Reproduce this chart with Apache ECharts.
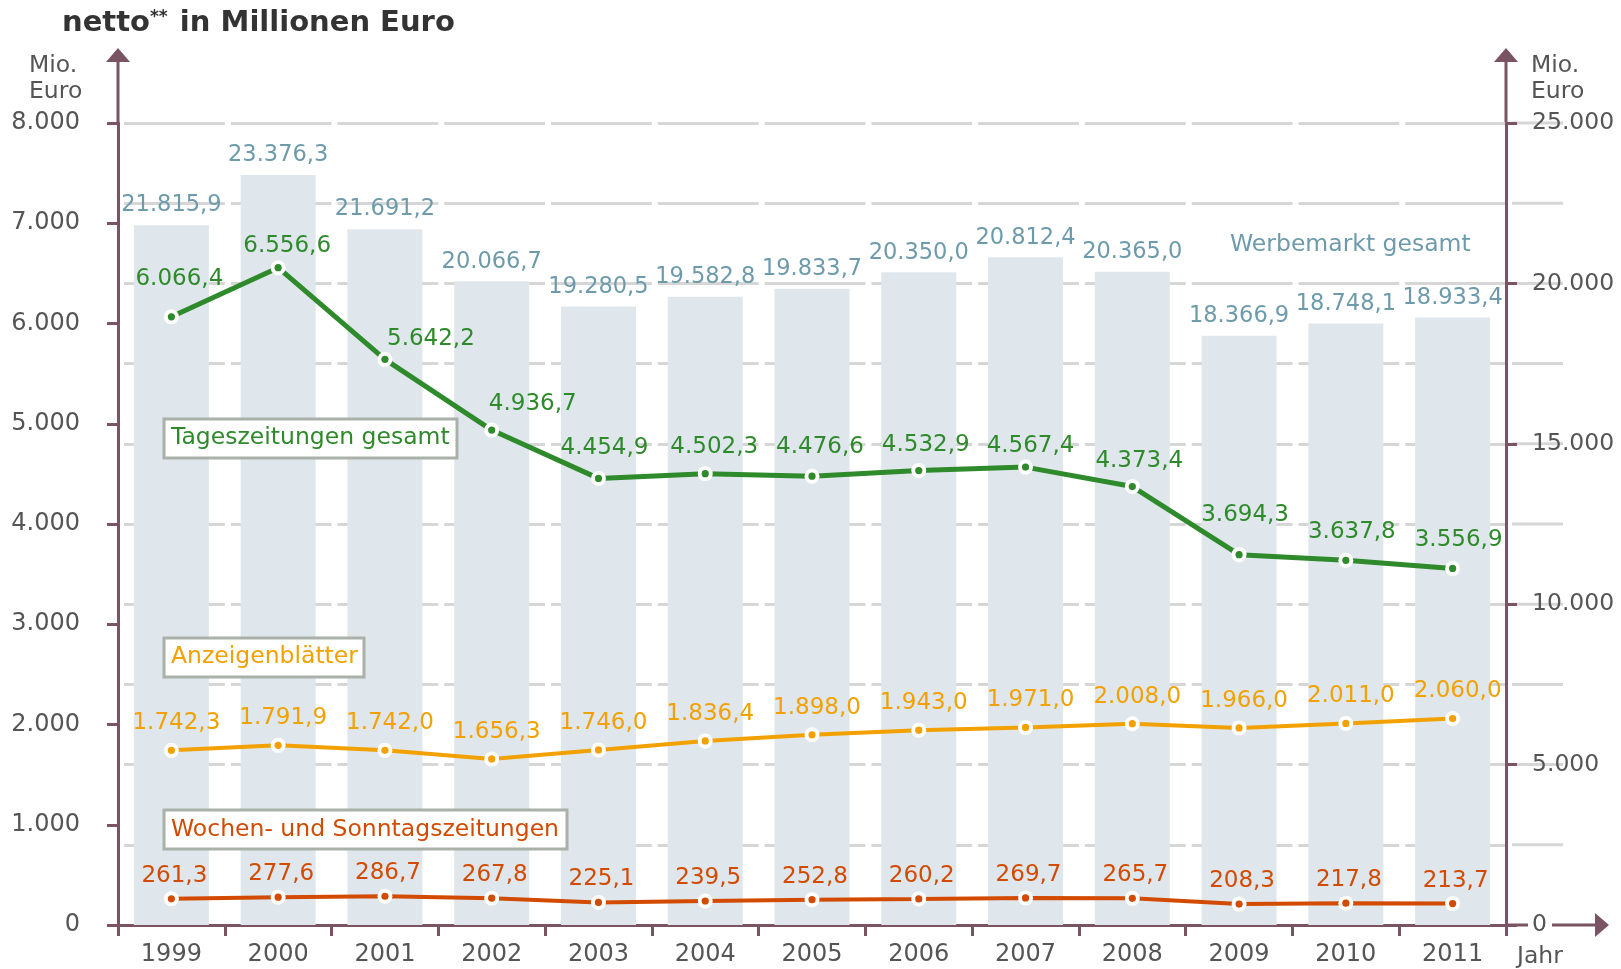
<!DOCTYPE html>
<html>
<head>
<meta charset="utf-8">
<title>Werbemarkt netto</title>
<script src="https://cdn.jsdelivr.net/npm/echarts@6/dist/echarts.min.js"></script>
<style>
  html, body { margin: 0; padding: 0; background: #fff; }
  #main { width: 1621px; height: 969px; }
</style>
</head>
<body>
<div id="main"></div>
<script>
// Daten (Mio. Euro)
var jahre = ['1999', '2000', '2001', '2002', '2003', '2004', '2005', '2006', '2007', '2008', '2009', '2010', '2011'];
var werbemarktGesamt = [21815.9, 23376.3, 21691.2, 20066.7, 19280.5, 19582.8, 19833.7, 20350.0, 20812.4, 20365.0, 18366.9, 18748.1, 18933.4];
var tageszeitungen = [6066.4, 6556.6, 5642.2, 4936.7, 4454.9, 4502.3, 4476.6, 4532.9, 4567.4, 4373.4, 3694.3, 3637.8, 3556.9];
var anzeigenblaetter = [1742.3, 1791.9, 1742.0, 1656.3, 1746.0, 1836.4, 1898.0, 1943.0, 1971.0, 2008.0, 1966.0, 2011.0, 2060.0];
var wochenSonntag = [261.3, 277.6, 286.7, 267.8, 225.1, 239.5, 252.8, 260.2, 269.7, 265.7, 208.3, 217.8, 213.7];

// Achsen
var linksMax = 8000, linksSchritt = 1000;
var rechtsMax = 25000, rechtsSchritt = 5000;

// Verschiebung der Beschriftung an der gruenen Linie
var gruenVersatz = [[8, -38], [9, -22], [46, -20], [41, -26], [6, -30], [9, -27], [8, -29], [7, -26], [5, -21], [7, -26], [6, -40], [6, -28], [6, -28]];

var achsFarbe = '#7a5462';
var textFarbe = '#555';
var gruen = '#2e8a2b', orange = '#f2a100', rot = '#d24b00';
var schrift = 'DejaVu Sans';
var fontText = '23.5px "DejaVu Sans"';

function deZahl(v, dez) {
    var s = Number(v).toFixed(dez);
    var p = s.split('.');
    p[0] = p[0].replace(/\B(?=(\d{3})+(?!\d))/g, '.');
    return p.length > 1 ? p[0] + ',' + p[1] : p[0];
}

// Punkt mit weissem Ring
function punkt(farbe) {
    var svg = '<svg xmlns="http://www.w3.org/2000/svg" width="16" height="16">' +
        '<circle cx="8" cy="8" r="7.5" fill="#ffffff"/>' +
        '<circle cx="8" cy="8" r="3.6" fill="' + farbe + '"/></svg>';
    return 'image://data:image/svg+xml;charset=utf-8,' + encodeURIComponent(svg);
}

var myChart = echarts.init(document.getElementById('main'));

var gruenDaten = tageszeitungen.map(function (v, i) {
    return { value: v, label: { offset: gruenVersatz[i] } };
});

function linie(name, daten, farbe, breite, versatz) {
    return {
        name: name,
        type: 'line',
        xAxisIndex: 0,
        yAxisIndex: 0,
        data: daten,
        symbol: punkt(farbe),
        symbolSize: 16,
        lineStyle: { color: farbe, width: breite },
        itemStyle: { color: farbe },
        label: {
            show: true,
            position: 'inside',
            offset: versatz,
            color: farbe,
            fontFamily: schrift,
            fontSize: 23,
            textBorderWidth: 0,
            formatter: function (p) { return deZahl(p.value, 1); }
        },
        emphasis: { disabled: true },
        z: 3
    };
}

var gitter = { color: '#d6d6d6', width: 3, type: [100.77, 6], dashOffset: 100.77 };

var option = {
    animation: false,
    textStyle: { fontFamily: schrift },
    title: {
        left: 62,
        top: 9,
        padding: 0,
        text: '{a|netto}{s|**}{a| in Millionen Euro}',
        textStyle: {
            rich: {
                a: { fontFamily: schrift, fontWeight: 'bold', fontSize: 29, color: '#333' },
                s: { fontFamily: schrift, fontWeight: 'bold', fontSize: 17, color: '#333', verticalAlign: 'top', padding: [0, 2, 12, 0] }
            }
        }
    },
    grid: { left: 118, right: 115, top: 123, bottom: 44 },
    xAxis: {
        type: 'category',
        data: jahre,
        boundaryGap: true,
        axisLine: { lineStyle: { color: achsFarbe, width: 3 } },
        axisTick: { show: true, length: 11, lineStyle: { color: achsFarbe, width: 3 } },
        axisLabel: { color: textFarbe, fontSize: 24, margin: 18, fontFamily: schrift },
        splitLine: { show: false }
    },
    yAxis: [{
        type: 'value',
        position: 'left',
        min: 0,
        max: linksMax,
        interval: linksSchritt,
        axisLine: { show: true, lineStyle: { color: achsFarbe, width: 3 } },
        axisTick: { show: true, length: 11, lineStyle: { color: achsFarbe, width: 3 } },
        axisLabel: { color: textFarbe, fontSize: 24, margin: 38, fontFamily: schrift, formatter: function (v) { return deZahl(v, 0); } },
        splitLine: { show: false }
    }, {
        type: 'value',
        position: 'right',
        min: 0,
        max: rechtsMax,
        interval: rechtsSchritt,
        axisLine: { show: true, lineStyle: { color: achsFarbe, width: 3 } },
        axisTick: { show: true, length: 11, lineStyle: { color: achsFarbe, width: 3 } },
        axisLabel: { color: textFarbe, fontSize: 23.5, margin: 26, fontFamily: schrift, formatter: function (v) { return deZahl(v, 0); } },
        splitLine: { show: true, lineStyle: gitter },
        minorTick: { show: false, splitNumber: 2 },
        minorSplitLine: { show: true, lineStyle: gitter }
    }],
    series: [{
        name: 'Werbemarkt gesamt',
        type: 'bar',
        xAxisIndex: 0,
        yAxisIndex: 1,
        data: werbemarktGesamt,
        barWidth: 75,
        itemStyle: { color: '#dfe7ed' },
        label: {
            show: true,
            position: 'top',
            distance: 8,
            color: '#6d9bab',
            fontSize: 22.5,
            fontFamily: schrift,
            formatter: function (p) { return deZahl(p.value, 1); }
        },
        emphasis: { disabled: true },
        z: 2
    },
    linie('Tageszeitungen gesamt', gruenDaten, gruen, 5, [0, 0]),
    linie('Anzeigenblätter', anzeigenblaetter, orange, 4, [5, -27]),
    linie('Wochen- und Sonntagszeitungen', wochenSonntag, rot, 4, [3, -23])
    ],
    graphic: [
        // Achsenpfeile
        { type: 'line', shape: { x1: 118, y1: 124, x2: 118, y2: 60 }, style: { stroke: achsFarbe, lineWidth: 3 } },
        { type: 'polygon', shape: { points: [[118, 48], [106, 62], [130, 62]] }, style: { fill: achsFarbe } },
        { type: 'line', shape: { x1: 1506, y1: 124, x2: 1506, y2: 60 }, style: { stroke: achsFarbe, lineWidth: 3 } },
        { type: 'polygon', shape: { points: [[1506, 48], [1494, 62], [1518, 62]] }, style: { fill: achsFarbe } },
        { type: 'line', shape: { x1: 1506, y1: 925, x2: 1528, y2: 925 }, style: { stroke: achsFarbe, lineWidth: 3 } },
        { type: 'line', shape: { x1: 1552, y1: 925, x2: 1597, y2: 925 }, style: { stroke: achsFarbe, lineWidth: 3 } },
        { type: 'polygon', shape: { points: [[1609, 925], [1595, 913], [1595, 937]] }, style: { fill: achsFarbe } },
        // Achsentitel
        { type: 'text', style: { x: 29, y: 79, text: 'Mio.\nEuro', font: fontText, fill: textFarbe, lineHeight: 26, verticalAlign: 'middle' } },
        { type: 'text', style: { x: 1531, y: 79, text: 'Mio.\nEuro', font: fontText, fill: textFarbe, lineHeight: 26, verticalAlign: 'middle' } },
        { type: 'text', style: { x: 1517, y: 957, text: 'Jahr', font: fontText, fill: textFarbe, verticalAlign: 'middle' } },
        { type: 'text', style: { x: 1230, y: 245, text: 'Werbemarkt gesamt', font: fontText, fill: '#6d9bab', verticalAlign: 'middle' } },
        // Legendenkaesten
        { type: 'rect', shape: { x: 164, y: 419, width: 293, height: 39 }, style: { fill: '#fff', stroke: '#a9b1a9', lineWidth: 3 }, z: 10 },
        { type: 'text', style: { x: 171, y: 438, text: 'Tageszeitungen gesamt', font: fontText, fill: gruen, verticalAlign: 'middle' }, z: 11 },
        { type: 'rect', shape: { x: 164, y: 638, width: 200, height: 39 }, style: { fill: '#fff', stroke: '#a9b1a9', lineWidth: 3 }, z: 10 },
        { type: 'text', style: { x: 171, y: 657, text: 'Anzeigenblätter', font: fontText, fill: orange, verticalAlign: 'middle' }, z: 11 },
        { type: 'rect', shape: { x: 164, y: 810, width: 403, height: 39 }, style: { fill: '#fff', stroke: '#a9b1a9', lineWidth: 3 }, z: 10 },
        { type: 'text', style: { x: 171, y: 830, text: 'Wochen- und Sonntagszeitungen', font: fontText, fill: rot, verticalAlign: 'middle' }, z: 11 }
    ]
};

myChart.setOption(option);

// Hilfslinien rechts neben der rechten Achse
var extra = [];
for (var v = rechtsSchritt / 2; v <= rechtsMax; v += rechtsSchritt / 2) {
    var y = myChart.convertToPixel({ yAxisIndex: 1 }, v);
    extra.push({ type: 'line', shape: { x1: 1512, y1: y, x2: 1563, y2: y }, style: { stroke: '#d6d6d6', lineWidth: 3 }, z: -1 });
}
myChart.setOption({ graphic: option.graphic.concat(extra) });
</script>
</body>
</html>
